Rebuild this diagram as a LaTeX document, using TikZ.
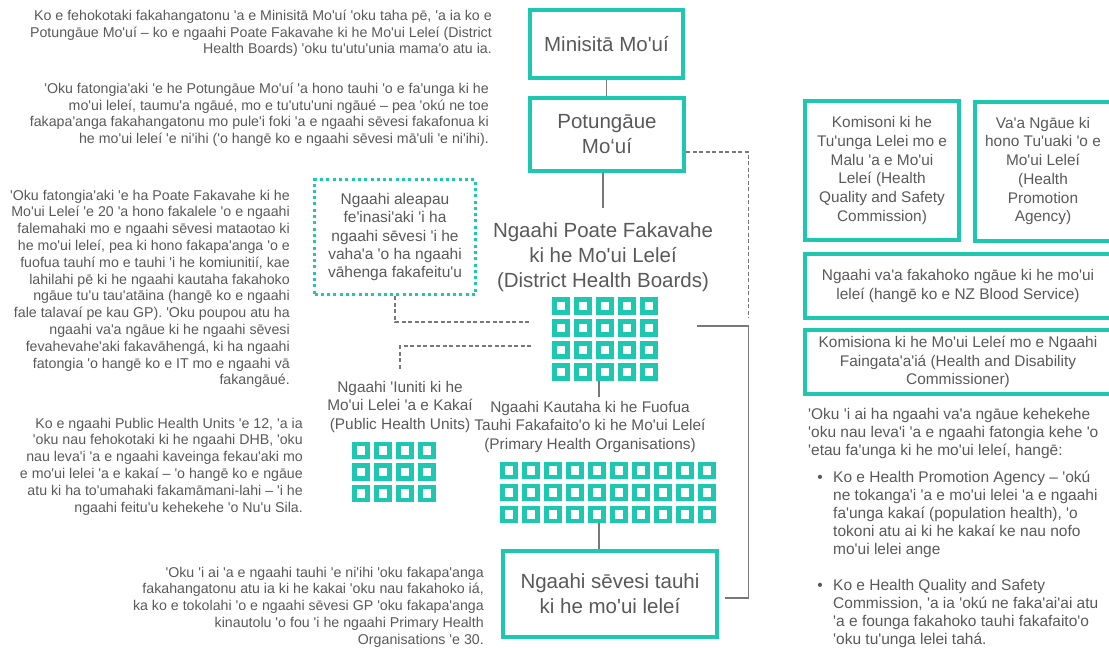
\documentclass[tikz,border=0pt]{standalone}
\usepackage{fontspec}
\newfontfamily\lsans{Liberation Sans}
\definecolor{teal1}{RGB}{30,200,176}
\definecolor{txt}{RGB}{89,89,89}
\definecolor{ln}{RGB}{120,120,120}
\begin{document}
\begin{tikzpicture}[x=1pt,y=-1pt,
  every node/.style={text=txt, inner sep=0},
  mainbox/.style={draw=teal1, line width=4, align=center, font=\lsans\fontsize{20.5}{25}\selectfont},
  biglabel/.style={align=center, font=\lsans\fontsize{20.5}{25}\selectfont},
  midlabel/.style={align=center, font=\lsans\fontsize{15.4}{18.5}\selectfont},
  sidebox/.style={draw=teal1, line width=4, align=center, font=\lsans\fontsize{15.4}{18.7}\selectfont},
  dotbox/.style={draw=teal1, line width=3, dash pattern=on 3 off 3.3, align=center, font=\lsans\fontsize{15.5}{18.4}\selectfont},
  body/.style={align=right, anchor=north east, font=\lsans\fontsize{14.2}{16.8}\selectfont},
  rbody/.style={align=left, anchor=north west, font=\lsans\fontsize{15.5}{17.9}\selectfont},
  sq/.style={draw=teal1, line width=4.5},
  conn/.style={draw=ln, line width=1.8},
  dconn/.style={draw=ln, line width=1.8, dash pattern=on 4 off 2.5},
]
\useasboundingbox (0,0) rectangle (1109,648);

% left texts
\node[body] (t1) at (492,9.6) {Ko e fehokotaki fakahangatonu 'a e Minisitā Mo'uí 'oku taha pē, 'a ia ko e\\Potungāue Mo'uí – ko e ngaahi Poate Fakavahe ki he Mo'ui Leleí (District\\Health Boards) 'oku tu'utu'unia mama'o atu ia.};
\node[body] (t2) at (489,82.6) {'Oku fatongia'aki 'e he Potungāue Mo'uí 'a hono tauhi 'o e fa'unga ki he\\mo'ui leleí, taumu'a ngāué, mo e tu'utu'uni ngāué – pea 'okú ne toe\\fakapa'anga fakahangatonu mo pule'i foki 'a e ngaahi sēvesi fakafonua ki\\he mo'ui leleí 'e ni'ihi ('o hangē ko e ngaahi sēvesi mā'uli 'e ni'ihi).};
\node[body] (t3) at (290,189.6) {'Oku fatongia'aki 'e ha Poate Fakavahe ki he\\Mo'ui Leleí 'e 20 'a hono fakalele 'o e ngaahi\\falemahaki mo e ngaahi sēvesi mataotao ki\\he mo'ui leleí, pea ki hono fakapa'anga 'o e\\fuofua tauhí mo e tauhi 'i he komiunitií, kae\\lahilahi pē ki he ngaahi kautaha fakahoko\\ngāue tu'u tau'atāina (hangē ko e ngaahi\\fale talavaí pe kau GP). 'Oku poupou atu ha\\ngaahi va'a ngāue ki he ngaahi sēvesi\\fevahevahe'aki fakavāhengá, ki ha ngaahi\\fatongia 'o hangē ko e IT mo e ngaahi vā\\fakangāué.};
\node[body] (t4) at (303,417.6) {Ko e ngaahi Public Health Units 'e 12, 'a ia\\'oku nau fehokotaki ki he ngaahi DHB, 'oku\\nau leva'i 'a e ngaahi kaveinga fekau'aki mo\\e mo'ui lelei 'a e kakaí – 'o hangē ko e ngāue\\atu ki ha to'umahaki fakamāmani-lahi – 'i he\\ngaahi feitu'u kehekehe 'o Nu'u Sila.};
\node[body] (t5) at (484,566.6) {'Oku 'i ai 'a e ngaahi tauhi 'e ni'ihi 'oku fakapa'anga\\fakahangatonu atu ia ki he kakai 'oku nau fakahoko iá,\\ka ko e tokolahi 'o e ngaahi sēvesi GP 'oku fakapa'anga\\kinautolu 'o fou 'i he ngaahi Primary Health\\Organisations 'e 30.};

% central column
\node[mainbox, minimum width=153, minimum height=68] (mini) at (606.5,44) {Minisitā Mo'uí};
\node[mainbox, minimum width=154, minimum height=73] (pot) at (607,134.5) {Potungāue\\Mo‘uí};
\node[biglabel, inner ysep=15] (dhb) at (603,257.5) {Ngaahi Poate Fakavahe\\ki he Mo'ui Leleí\\(District Health Boards)};
\node[dotbox, minimum width=161, minimum height=115] (dot) at (395,237) {Ngaahi aleapau\\fe'inasi'aki 'i ha\\ngaahi sēvesi 'i he\\vaha'a 'o ha ngaahi\\vāhenga fakafeitu'u};
\node[midlabel, inner ysep=12] (phu) at (400,407) {Ngaahi 'Iuniti ki he\\Mo'ui Lelei 'a e Kakaí\\(Public Health Units)};
\node[midlabel, inner ysep=4] (pho) at (590,427) {Ngaahi Kautaha ki he Fuofua\\Tauhi Fakafaito'o ki he Mo'ui Leleí\\(Primary Health Organisations)};
\node[mainbox, minimum width=214, minimum height=86] (bot) at (610,594) {Ngaahi sēvesi tauhi\\ki he mo'ui leleí};

% grids
\node[minimum width=105.5, minimum height=83.5] (dhbg) at (604.75,338.75) {};
\foreach \i in {0,...,4}\foreach \j in {0,...,3}
  \draw[sq] ({554.25+22*\i},{299.25+22*\j}) rectangle ++(13,13);
\node[minimum width=83.5, minimum height=60.9] (phug) at (393.75,471.95) {};
\foreach \i in {0,...,3}\foreach \j in {0,...,2}
  \draw[sq] ({354.25+22*\i},{443.75+21.7*\j}) rectangle ++(13,13);
\node[minimum width=215.5, minimum height=61.5] (phog) at (607.75,492.25) {};
\foreach \i in {0,...,9}\foreach \j in {0,...,2}
  \draw[sq] ({502.25+22*\i},{463.75+22*\j}) rectangle ++(13,13);

% right boxes
\node[sidebox, minimum width=154, minimum height=139] (hqsc) at (882,170.5) {Komisoni ki he\\Tu'unga Lelei mo e\\Malu 'a e Mo'ui\\Leleí (Health\\Quality and Safety\\Commission)};
\node[sidebox, minimum width=136, minimum height=139] (hpa) at (1043,171) {Va'a Ngāue ki\\hono Tu'uaki 'o e\\Mo'ui Leleí\\(Health\\Promotion\\Agency)};
\node[sidebox, minimum width=306, minimum height=64] (nzb) at (958,286) {Ngaahi va'a fakahoko ngāue ki he mo'ui\\leleí (hangē ko e NZ Blood Service)};
\node[sidebox, minimum width=306, minimum height=64] (hdc) at (958,362) {Komisiona ki he Mo'ui Leleí mo e Ngaahi\\Faingata'a'iá (Health and Disability\\Commissioner)};

% right text
\node[rbody] (r0) at (808,408.2) {'Oku 'i ai ha ngaahi va'a ngāue kehekehe\\'oku nau leva'i 'a e ngaahi fatongia kehe 'o\\'etau fa'unga ki he mo'ui leleí, hangē:};
\node[rbody] (r1) at (833,471.2) {Ko e Health Promotion Agency – 'okú\\ne tokanga'i 'a e mo'ui lelei 'a e ngaahi\\fa'unga kakaí (population health), 'o\\tokoni atu ai ki he kakaí ke nau nofo\\mo'ui lelei ange};
\node[rbody] (r2) at (833,579.2) {Ko e Health Quality and Safety\\Commission, 'a ia 'okú ne faka'ai'ai atu\\'a e founga fakahoko tauhi fakafaito'o\\'oku tu'unga lelei tahá.};
\node[anchor=base, font=\lsans\fontsize{15.5}{17.9}\selectfont] (bu1) at (820,482.5) {•};
\node[anchor=base, font=\lsans\fontsize{15.5}{17.9}\selectfont] (bu2) at (820,590.5) {•};

% connectors
\coordinate (sp) at (599,0);
\draw[conn] (mini.south) -- (mini.south |- pot.north);
\draw[conn] (pot.south -| dhb) -- (dhb.north);
\draw[conn] (sp |- dhbg.south) -- (sp |- pho.north);
\draw[conn] (sp |- phog.south) -- (sp |- bot.north);
\coordinate (d1) at (531,322);
\coordinate (d2) at (531,346);
\coordinate (d3top) at (748.5,152);
\coordinate (d3) at (748.5,318);
\draw[dconn] (dot.south) |- (d1);
\draw[dconn] (d2) -| (phu.north);
\draw[dconn] (pot.east |- d3top) -- (d3top) -- (d3);
\coordinate (s1) at (697,326);
\coordinate (s2) at (748.5,598);
\coordinate (s3) at (725,598);
\draw[conn] (s1) -| (s2) -- (s3);
\end{tikzpicture}
\end{document}
